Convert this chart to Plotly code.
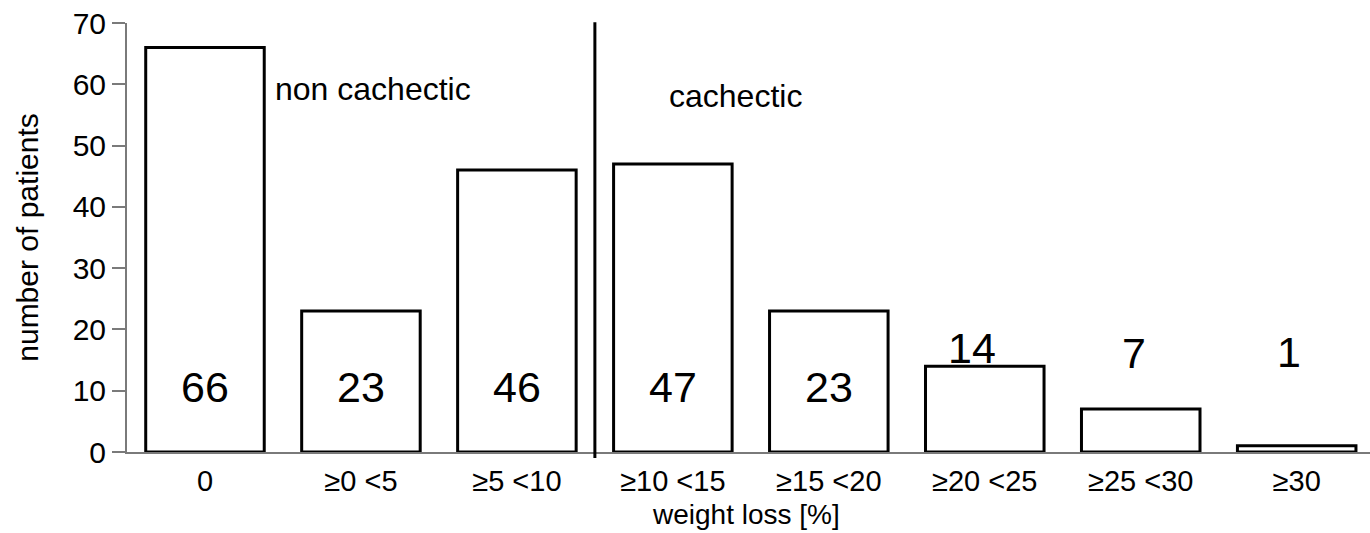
import plotly.graph_objects as go

categories = ["0", "≥0 <5", "≥5 <10", "≥10 <15", "≥15 <20", "≥20 <25", "≥25 <30", "≥30"]
patients = [66, 23, 46, 47, 23, 14, 7, 1]
y_ticks = [0, 10, 20, 30, 40, 50, 60, 70]
group_labels = ["non cachectic", "cachectic"]
x_title = "weight loss [%]"
y_title = "number of patients"

FONT = "Arial, Liberation Sans, sans-serif"

fig = go.Figure()
fig.add_trace(go.Bar(
    x=categories,
    y=patients,
    width=0.76,
    marker=dict(color="white", line=dict(color="black", width=3)),
    showlegend=False,
    hoverinfo="x+y",
))

# value labels inside / above bars
label_y = [10.6, 10.6, 10.6, 10.6, 10.6, 17.0, 16.2, 16.3]
label_dx = [0, 0, 0, 0, 0, -13, -7, -8]
for i, v in enumerate(patients):
    fig.add_annotation(
        x=i, y=label_y[i], xref="x", yref="y", text=str(v), showarrow=False,
        xshift=label_dx[i],
        font=dict(family=FONT, size=43, color="black"),
    )

# group labels
fig.add_annotation(x=0.436, y=59.2, xref="x", yref="y", text=group_labels[0],
                   showarrow=False, xanchor="left", yanchor="middle",
                   font=dict(family=FONT, size=32, color="black"))
fig.add_annotation(x=2.96, y=58.1, xref="x", yref="y", text=group_labels[1],
                   showarrow=False, xanchor="left", yanchor="middle",
                   font=dict(family=FONT, size=32, color="black"))

# x axis title
fig.add_annotation(x=0.498, y=0, xref="paper", yref="paper", yshift=-62,
                   text=x_title, showarrow=False, xanchor="center", yanchor="middle",
                   font=dict(family=FONT, size=28, color="black"))

# divider between groups
fig.add_shape(type="line", xref="x", yref="paper", x0=2.5, x1=2.5, y0=-0.014, y1=1.002,
              line=dict(color="black", width=3))

fig.update_layout(
    width=1370, height=533,
    margin=dict(l=127, r=0, t=23, b=81, autoexpand=False),
    paper_bgcolor="white", plot_bgcolor="white",
    font=dict(family=FONT, color="black"),
    xaxis=dict(
        range=[-0.5, 7.47],
        showline=True, linecolor="#7a7a7a", linewidth=2,
        ticks="", showgrid=False, zeroline=False,
        tickfont=dict(family=FONT, size=29, color="black"),
        ticklabelstandoff=2,
        automargin=False,
    ),
    yaxis=dict(
        range=[0, 70],
        tickvals=y_ticks,
        showline=True, linecolor="#7a7a7a", linewidth=2,
        ticks="outside", ticklen=13, tickwidth=2, tickcolor="#7a7a7a",
        showgrid=False, zeroline=False,
        tickfont=dict(family=FONT, size=30, color="black"),
        ticklabelstandoff=0,
        automargin=False,
        title=dict(text=y_title, font=dict(family=FONT, size=30, color="black"), standoff=25),
    ),
)

fig.write_html("out.html", config={"displayModeBar": False},
               post_script="document.body.style.margin='0';document.body.style.padding='0';")
